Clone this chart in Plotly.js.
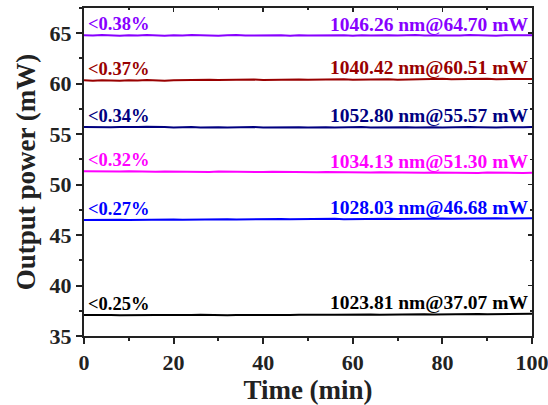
<!DOCTYPE html>
<html>
<head>
<meta charset="utf-8">
<script src="https://cdn.plot.ly/plotly-3.0.1.min.js"></script>
<style>html,body{margin:0;padding:0;background:#fff}#chart{width:548px;height:405px}</style>
</head>
<body>
<div id="chart"></div>
<script>
const time = [0,2,4,6,8,10,12,14,16,18,20,22,24,26,28,30,32,34,36,38,40,42,44,46,48,50,52,54,56,58,60,62,64,66,68,70,72,74,76,78,80,82,84,86,88,90,92,94,96,98,100];

const p1023 = [37.08,37.10,37.07,37.09,37.06,37.08,37.10,37.07,37.09,37.08,
37.06,37.09,37.08,37.10,37.07,37.08,37.06,37.09,37.08,37.10,
37.09,37.07,37.10,37.08,37.11,37.09,37.12,37.10,37.11,37.13,
37.10,37.12,37.14,37.11,37.13,37.15,37.12,37.14,37.16,37.13,
37.15,37.17,37.14,37.16,37.18,37.15,37.17,37.19,37.16,37.18,37.20];

const p1028 = [46.50,46.52,46.49,46.51,46.53,46.50,46.52,46.54,46.51,46.53,
46.55,46.52,46.54,46.56,46.53,46.55,46.57,46.54,46.56,46.58,
46.55,46.57,46.59,46.56,46.58,46.60,46.57,46.59,46.61,46.58,
46.60,46.62,46.59,46.61,46.63,46.60,46.62,46.64,46.61,46.63,
46.65,46.62,46.64,46.66,46.63,46.65,46.67,46.64,46.66,46.68,46.66];

const p1034 = [51.32,51.30,51.34,51.31,51.29,51.33,51.30,51.32,51.28,51.31,
51.29,51.27,51.30,51.28,51.26,51.29,51.27,51.25,51.28,51.26,
51.24,51.27,51.25,51.23,51.26,51.24,51.22,51.25,51.23,51.21,
51.24,51.22,51.20,51.23,51.21,51.19,51.22,51.20,51.18,51.21,
51.19,51.17,51.20,51.18,51.16,51.19,51.17,51.15,51.18,51.16,51.17];

const p1052 = [55.70,55.68,55.72,55.69,55.71,55.67,55.70,55.73,55.68,55.70,
55.66,55.69,55.71,55.67,55.70,55.68,55.65,55.69,55.67,55.70,
55.66,55.68,55.71,55.67,55.69,55.66,55.70,55.68,55.65,55.69,
55.67,55.70,55.66,55.68,55.71,55.67,55.69,55.66,55.70,55.68,
55.65,55.69,55.67,55.70,55.68,55.71,55.67,55.69,55.72,55.68,55.70];

const p1040 = [60.33,60.30,60.35,60.32,60.29,60.34,60.31,60.36,60.33,60.30,
60.35,60.38,60.34,60.37,60.40,60.36,60.39,60.35,60.38,60.41,
60.37,60.40,60.36,60.39,60.42,60.38,60.41,60.44,60.40,60.43,
60.39,60.42,60.45,60.41,60.44,60.40,60.43,60.46,60.42,60.45,
60.48,60.44,60.47,60.43,60.46,60.49,60.45,60.48,60.44,60.47,60.46];

const p1046 = [64.80,64.77,64.82,64.79,64.76,64.81,64.78,64.83,64.79,64.76,
64.80,64.77,64.82,64.78,64.81,64.76,64.79,64.83,64.78,64.80,
64.77,64.82,64.79,64.76,64.81,64.78,64.80,64.77,64.83,64.79,
64.76,64.81,64.78,64.82,64.79,64.77,64.80,64.83,64.78,64.76,
64.81,64.79,64.77,64.82,64.78,64.80,64.76,64.81,64.79,64.83,64.80];

const seriesData = [p1023, p1028, p1034, p1052, p1040, p1046];
const seriesColors = ['#000000', '#0000FF', '#FF00FF', '#000080', '#990000', '#8800FF'];
const leftLabels = ['<0.25%', '<0.27%', '<0.32%', '<0.34%', '<0.37%', '<0.38%'];
const rightLabels = ['1023.81 nm@37.07 mW', '1028.03 nm@46.68 mW', '1034.13 nm@51.30 mW',
                     '1052.80 nm@55.57 mW', '1040.42 nm@60.51 mW', '1046.26 nm@64.70 mW'];

const FONT = 'Liberation Serif, Times New Roman, serif';
const AX = '#222222';

const traces = seriesData.map((d, i) => ({
  x: time, y: d, type: 'scatter', mode: 'lines',
  line: {color: seriesColors[i], width: 2},
  showlegend: false, hoverinfo: 'skip'
}));

const annotations = [];
seriesData.forEach((d, i) => {
  annotations.push({
    xref: 'paper', yref: 'y', x: 0, y: d[0] + 1.1, xanchor: 'left', yanchor: 'middle', xshift: 2,
    text: '<b>' + leftLabels[i].replace('<', '&lt;') + '</b>', showarrow: false,
    font: {family: FONT, size: 18.5, color: seriesColors[i]}
  });
  annotations.push({
    xref: 'paper', yref: 'y', x: 1, y: d[d.length - 1] + 1.1, xanchor: 'right', yanchor: 'middle', xshift: -2,
    text: '<b>' + rightLabels[i] + '</b>', showarrow: false,
    font: {family: FONT, size: 19.5, color: seriesColors[i]}
  });
});

const layout = {
  width: 548, height: 405,
  margin: {l: 84, r: 16, t: 8, b: 69},
  paper_bgcolor: '#fff', plot_bgcolor: '#fff',
  font: {family: FONT, color: AX},
  xaxis: {
    range: [0, 100], dtick: 20, tick0: 0,
    showgrid: false, zeroline: false,
    showline: true, linecolor: AX, linewidth: 2,
    ticks: 'outside', ticklen: 6, tickwidth: 2, tickcolor: AX,
    minor: {dtick: 10, ticks: 'outside', ticklen: 3, tickwidth: 2, tickcolor: AX},
    tickfont: {family: FONT, size: 22, weight: 'bold', color: AX},
    ticklabeloverflow: 'allow',
    title: {text: '<b>Time (min)</b>', font: {family: FONT, size: 27, color: AX}, standoff: 6}
  },
  yaxis: {
    range: [35, 67.5], dtick: 5, tick0: 35,
    showgrid: false, zeroline: false,
    showline: true, linecolor: AX, linewidth: 2,
    ticks: 'outside', ticklen: 6, tickwidth: 2, tickcolor: AX,
    minor: {dtick: 2.5, ticks: 'outside', ticklen: 3, tickwidth: 2, tickcolor: AX},
    tickfont: {family: FONT, size: 22, weight: 'bold', color: AX},
    title: {text: '<b>Output power (mW)</b>', font: {family: FONT, size: 27, color: AX}, standoff: 6}
  },
  xaxis2: {
    overlaying: 'x', matches: 'x', side: 'top', range: [0, 100], dtick: 20,
    showgrid: false, zeroline: false, showline: true, linecolor: AX, linewidth: 2,
    ticks: 'inside', ticklen: 4, tickwidth: 1.5, tickcolor: AX, showticklabels: false,
    minor: {dtick: 10, ticks: 'inside', ticklen: 2, tickwidth: 1.5, tickcolor: AX}
  },
  yaxis2: {
    overlaying: 'y', matches: 'y', side: 'right', range: [35, 67.5], dtick: 5,
    showgrid: false, zeroline: false, showline: true, linecolor: AX, linewidth: 2,
    ticks: 'inside', ticklen: 4, tickwidth: 1.5, tickcolor: AX, showticklabels: false,
    minor: {dtick: 2.5, ticks: 'inside', ticklen: 2, tickwidth: 1.5, tickcolor: AX}
  },
  annotations: annotations
};

traces.push({x: [0, 100], y: [35, 35], xaxis: 'x2', yaxis: 'y2', mode: 'lines',
  line: {width: 0, color: 'rgba(0,0,0,0)'}, showlegend: false, hoverinfo: 'skip'});

Plotly.newPlot('chart', traces, layout, {displayModeBar: false, staticPlot: true});
</script>
</body>
</html>
